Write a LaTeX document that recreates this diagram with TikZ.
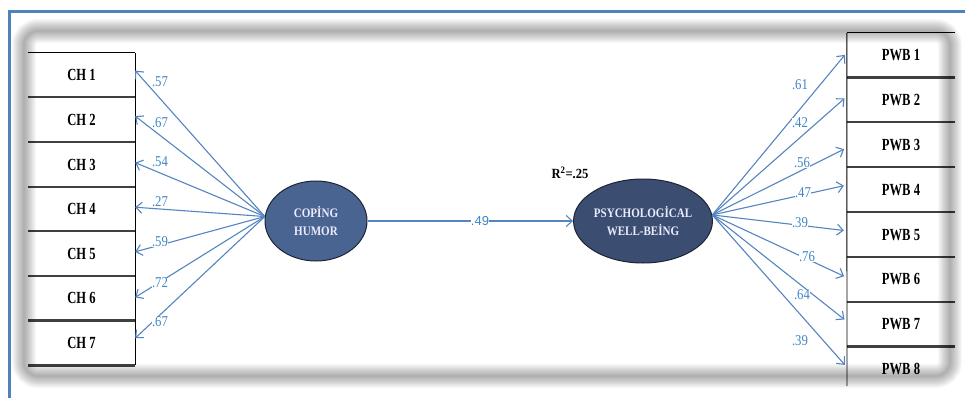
\documentclass[tikz,border=0pt]{standalone}
\usepackage{fontspec}
\setmainfont{Liberation Serif}
\newfontfamily\lsans{Liberation Sans}
\usetikzlibrary{arrows.meta,shapes.geometric}
\definecolor{frameblue}{HTML}{4F81BD}
\definecolor{linkblue}{HTML}{5585C0}
\definecolor{lblblue}{HTML}{3F86C4}
\definecolor{copfill}{HTML}{4A6491}
\definecolor{psyfill}{HTML}{3B4D70}
\definecolor{ellborder}{HTML}{1C2436}
\newcommand{\bxtxt}[1]{\scalebox{0.74}[1]{#1}}
\newcommand{\elltxt}[1]{\scalebox{0.85}[1]{#1}}
\begin{document}
\begin{tikzpicture}[x=1pt,y=-1pt,
  chbox/.style={minimum width=107pt,minimum height=44.6pt,inner sep=0pt,font=\fontsize{17}{17}\selectfont\bfseries},
  pwbbox/.style={minimum width=108pt,minimum height=44.8pt,inner sep=0pt,font=\fontsize{17}{17}\selectfont\bfseries},
  sepline/.style={line width=2.2pt,black!75},
  edgeline/.style={line width=0.9pt,black},
  latent/.style={ellipse,draw=ellborder,line width=1pt,minimum width=102pt,minimum height=80pt,inner sep=0pt,text=white!92!blue,font=\fontsize{13}{18}\selectfont\bfseries,align=center},
  arr/.style={linkblue,line width=1.1pt,-{Straight Barb[length=6pt,width=11pt]}},
  coef/.style={text=lblblue,font=\fontsize{15}{15}\selectfont,fill=white,inner sep=0.3pt},
]
\useasboundingbox (0,0) rectangle (965,398);
\fill[white] (0,0) rectangle (965,398);

% CH boxes
\foreach \i/\y in {1/75.3,2/119.9,3/164.5,4/209.1,5/253.7,6/298.3,7/342.9}
  \node[chbox] (ch\i) at (81.5,\y) {\bxtxt{CH \i}};
\foreach \i in {2,...,7}
  \draw[sepline] (ch\i.north west) -- (ch\i.north east);
\draw[edgeline] (ch1.north west) -- (ch1.north east);
\draw[sepline] (ch7.south west) -- (ch7.south east);
\draw[edgeline] (ch1.north east) -- (ch7.south east);

% PWB boxes
\foreach \i/\y in {1/55.4,2/100.2,3/145,4/189.8,5/234.6,6/279.4,7/324.2,8/369}
  \node[pwbbox] (pwb\i) at (901,\y) {\bxtxt{PWB \i}};
\foreach \i in {2,...,8}
  \draw[sepline] (pwb\i.north west) -- (pwb\i.north east);
\draw[edgeline] (pwb1.north west) -- (pwb1.north east);
\coordinate (pwbend) at (847,386);
\draw[edgeline] (pwb1.north west) -- (pwbend);

% latent variables
\node[latent,fill=copfill] (cop) at (316,221) {\elltxt{COPİNG}\\\elltxt{HUMOR}};
\node[latent,fill=psyfill,minimum width=104pt,minimum height=84pt] (psy) at (643,221) {\elltxt{PSYCHOLOGİCAL}\\\elltxt{WELL-BEİNG}};

% paths
\draw[arr] (cop.east) -- (psy.west);
\node[coef,font=\lsans\fontsize{13}{13}\selectfont] (c49) at (480,221) {.49};
\node[font=\fontsize{14}{14}\selectfont\bfseries] (r2) at (570,173) {\scalebox{0.9}[1]{R\textsuperscript{2}=.25}};

\foreach \i/\a in {1/5,2/4,3/2,4/2,5/2,6/1,7/5}
  \draw[arr] (cop.175) -- (ch\i.\a);
\foreach \i/\a in {1/177,2/176,3/183,4/175,5/176,6/178,7/177,8/178}
  \draw[arr,shorten >=3pt] (psy.5) -- (pwb\i.\a);

\foreach \n/\x/\y/\t in {l1/160/82/.57,l2/160/123/.67,l3/160/162/.54,l4/160/202/.27,l5/160/242/.59,l6/160/283/.72,l7/160/322/.67,
  r1/800/85/.61,r2/800/123/.42,r3/802/163/.56,r4/803/193/.47,r5/800/223/.39,r6/807/257/.76,r7/802/295/.64,r8/800/341/.39}
  \node[coef] (lab\n) at (\x,\y) {\scalebox{0.85}[1]{\t}};

% soft panel shadow
\foreach \w in {1,...,12}
  \draw[black,opacity=0.028,line width=\w*2pt,rounded corners=14pt] (24,31) rectangle (950,376);

% blue frame
\draw[frameblue,line width=3pt] (9,398) -- (9,12) -- (965,12);
\end{tikzpicture}
\end{document}
